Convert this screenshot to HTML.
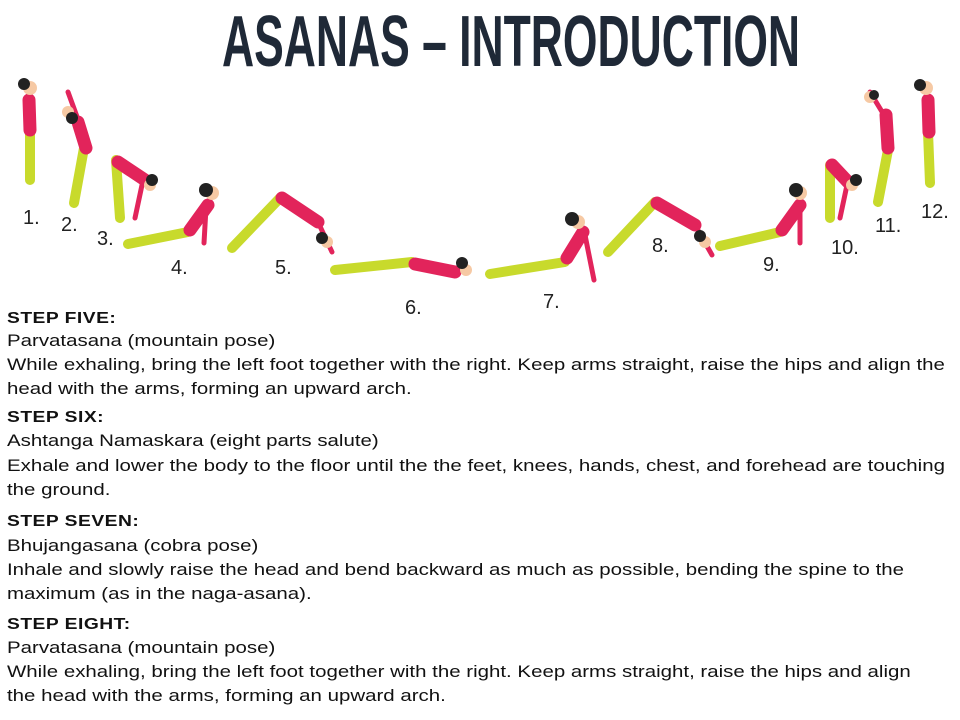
<!DOCTYPE html>
<html><head><meta charset="utf-8"><style>
body{margin:0;width:960px;height:720px;background:#fff;position:relative;overflow:hidden;font-family:"Liberation Sans",Arial,sans-serif}
.t{position:absolute;left:222px;top:6px;width:578px;height:72px;font-family:"Liberation Sans Narrow","Liberation Sans",sans-serif;font-weight:bold;font-size:72px;line-height:72px;color:#1f2937;white-space:nowrap;transform-origin:0 0}
.n{position:absolute;font-size:20px;color:#222}
.tx{position:absolute;left:7px;font-size:17px;color:#111;white-space:nowrap;transform:scaleX(1.203);transform-origin:0 0}
.b{font-weight:bold;font-size:16px;letter-spacing:0.4px}
</style></head><body>
<div class="t" id="tt">ASANAS – INTRODUCTION</div>
<svg width="960" height="320" style="position:absolute;left:0;top:0" fill="none" stroke-linecap="round" stroke-linejoin="round">
<g stroke="#c8da2c" stroke-width="10">
<path d="M30 130 L30 180"/><path d="M84 148 L74 203"/><path d="M116 160 L120 218"/>
<path d="M128 244 L188 232"/><path d="M232 248 L280 198"/><path d="M335 270 L412 262"/>
<path d="M490 274 L565 262"/><path d="M608 252 L655 202"/><path d="M720 246 L780 232"/>
<path d="M830 165 L830 218"/><path d="M878 202 L888 150"/><path d="M928 132 L930 183"/>
</g>
<g stroke="#e2245b" stroke-width="13">
<path d="M29 100 L30 130"/><path d="M78 122 L86 148"/><path d="M118 162 L145 180"/>
<path d="M190 230 L208 205"/><path d="M282 198 L318 222"/><path d="M415 264 L455 272"/>
<path d="M567 258 L583 232"/><path d="M657 203 L695 225"/><path d="M782 230 L800 205"/>
<path d="M832 165 L848 182"/><path d="M888 148 L886 115"/><path d="M928 100 L929 132"/>
</g>
<g stroke="#e2245b" stroke-width="5">
<path d="M68 92 L80 125"/><path d="M142 185 L135 218"/><path d="M206 208 L204 243"/><path d="M318 222 L332 252"/><path d="M585 235 L594 280"/><path d="M695 225 L712 255"/><path d="M800 208 L800 243"/><path d="M847 185 L840 218"/><path d="M884 115 L870 92"/>
</g>
<g fill="#f6c9a4" stroke="none">
<circle cx="30" cy="88" r="7"/><circle cx="68" cy="112" r="6"/><circle cx="150" cy="185" r="6"/><circle cx="212" cy="193" r="7"/><circle cx="327" cy="242" r="6"/><circle cx="466" cy="270" r="6"/><circle cx="578" cy="222" r="7"/><circle cx="705" cy="242" r="6"/><circle cx="800" cy="193" r="7"/><circle cx="852" cy="185" r="6"/><circle cx="870" cy="97" r="6"/><circle cx="926" cy="88" r="7"/>
</g>
<g fill="#222" stroke="none">
<circle cx="24" cy="84" r="6"/><circle cx="72" cy="118" r="6"/><circle cx="152" cy="180" r="6"/><circle cx="206" cy="190" r="7"/><circle cx="322" cy="238" r="6"/><circle cx="462" cy="263" r="6"/><circle cx="572" cy="219" r="7"/><circle cx="700" cy="236" r="6"/><circle cx="796" cy="190" r="7"/><circle cx="856" cy="180" r="6"/><circle cx="874" cy="95" r="5"/><circle cx="920" cy="85" r="6"/>
</g>
</svg>
<div class="n" style="left:23px;top:207px">1.</div>
<div class="n" style="left:61px;top:214px">2.</div>
<div class="n" style="left:97px;top:228px">3.</div>
<div class="n" style="left:171px;top:257px">4.</div>
<div class="n" style="left:275px;top:257px">5.</div>
<div class="n" style="left:405px;top:297px">6.</div>
<div class="n" style="left:543px;top:291px">7.</div>
<div class="n" style="left:652px;top:235px">8.</div>
<div class="n" style="left:763px;top:254px">9.</div>
<div class="n" style="left:831px;top:237px">10.</div>
<div class="n" style="left:875px;top:215px">11.</div>
<div class="n" style="left:921px;top:201px">12.</div>
<div class="tx b" style="top:310px">STEP FIVE:</div>
<div class="tx" style="top:331px">Parvatasana (mountain pose)</div>
<div class="tx" style="top:355px">While exhaling, bring the left foot together with the right. Keep arms straight, raise the hips and align the</div>
<div class="tx" style="top:379px">head with the arms, forming an upward arch.</div>
<div class="tx b" style="top:409px">STEP SIX:</div>
<div class="tx" style="top:431px">Ashtanga Namaskara (eight parts salute)</div>
<div class="tx" style="top:456px">Exhale and lower the body to the floor until the the feet, knees, hands, chest, and forehead are touching</div>
<div class="tx" style="top:480px">the ground.</div>
<div class="tx b" style="top:513px">STEP SEVEN:</div>
<div class="tx" style="top:536px">Bhujangasana (cobra pose)</div>
<div class="tx" style="top:560px">Inhale and slowly raise the head and bend backward as much as possible, bending the spine to the</div>
<div class="tx" style="top:584px">maximum (as in the naga-asana).</div>
<div class="tx b" style="top:616px">STEP EIGHT:</div>
<div class="tx" style="top:638px">Parvatasana (mountain pose)</div>
<div class="tx" style="top:662px">While exhaling, bring the left foot together with the right. Keep arms straight, raise the hips and align</div>
<div class="tx" style="top:686px">the head with the arms, forming an upward arch.</div>
<script>
var t=document.getElementById('tt');var s=document.createElement('span');s.textContent=t.textContent;t.textContent='';t.appendChild(s);
t.style.transform='scaleX('+(578/s.offsetWidth)+')';
</script>
</body></html>
